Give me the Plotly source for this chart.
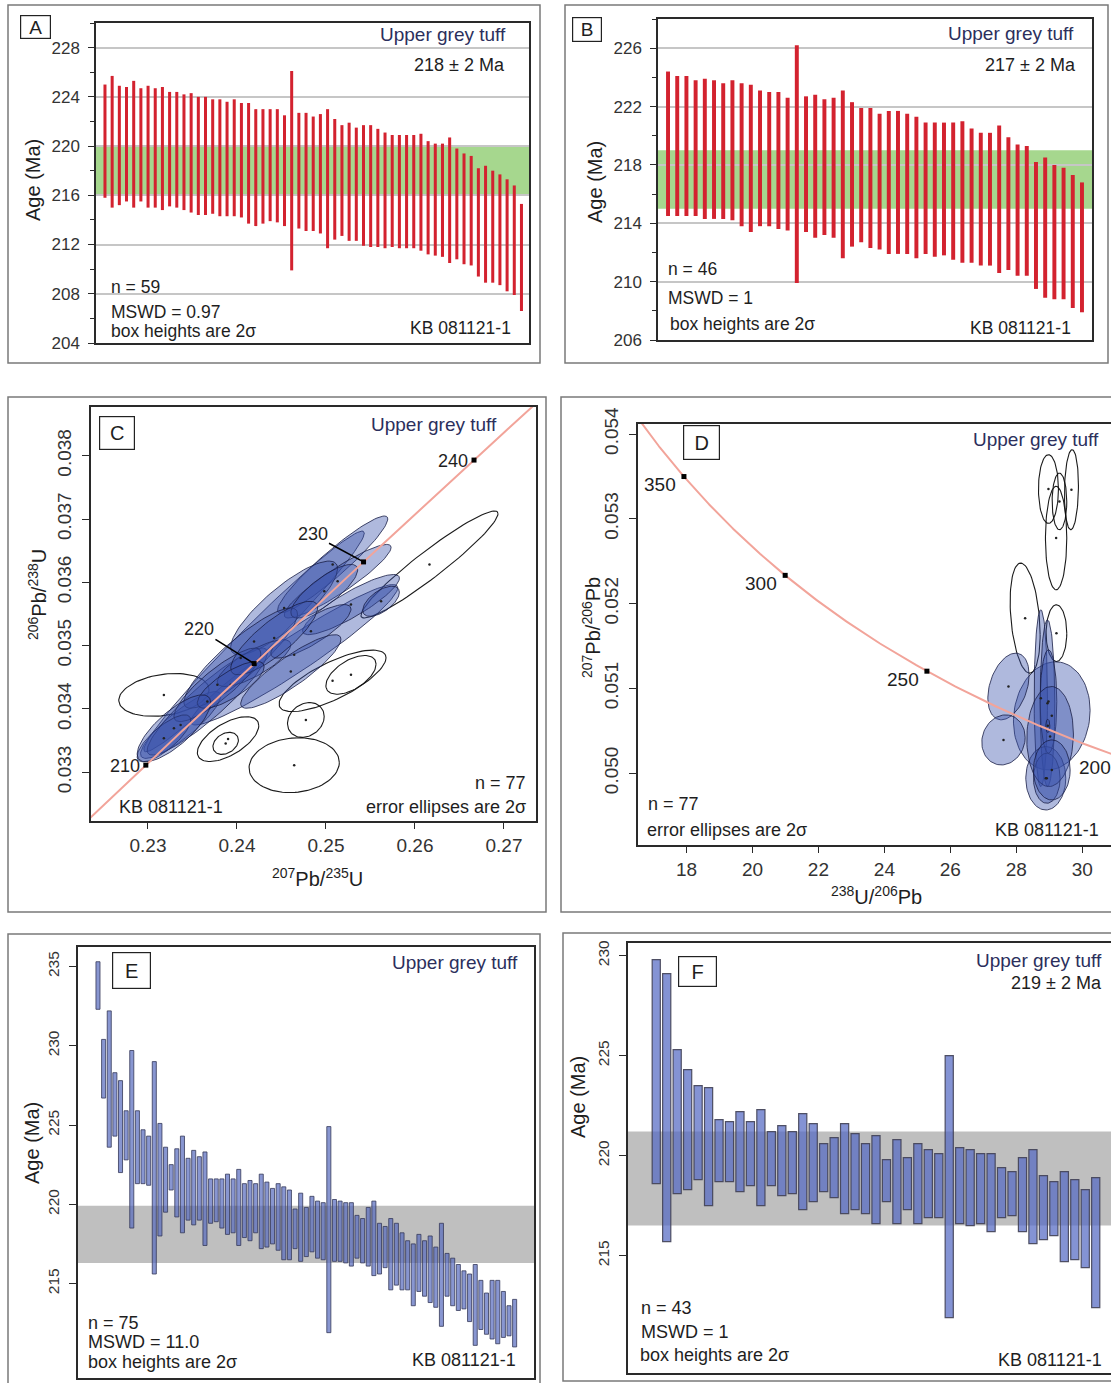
import numpy as np
import plotly.graph_objects as go

W, H = 1111, 1383
FONT = "Liberation Sans, Arial, sans-serif"
NAVY = "#2c2f5c"
TXT = "#1e1e1e"
AX = "#2a2a2a"

# ---------------- data ----------------
# Panel A: 2-sigma age boxes (Ma)
A_top = [225.0, 225.7, 224.9, 224.8, 225.3, 224.7, 224.9, 224.7, 224.8, 224.4,
         224.4, 224.2, 224.3, 224.0, 224.0, 223.8, 223.8, 223.6, 223.8, 223.5,
         223.5, 223.0, 223.0, 223.0, 223.0, 222.5, 226.1, 222.7, 222.7, 222.4,
         222.6, 223.0, 222.2, 221.7, 221.9, 221.5, 221.7, 221.7, 221.4, 221.1,
         220.9, 220.9, 220.9, 220.9, 221.0, 220.4, 220.2, 220.2, 220.7, 219.8,
         219.4, 219.2, 218.2, 218.4, 218.0, 217.7, 217.3, 216.8, 215.3]
A_bot = [215.8, 215.0, 215.2, 215.5, 215.0, 215.5, 215.0, 215.0, 214.8, 215.1,
         215.0, 214.8, 214.6, 214.4, 214.4, 214.5, 214.3, 214.3, 214.3, 214.2,
         213.7, 213.5, 213.7, 213.9, 213.8, 213.5, 209.9, 213.3, 213.1, 213.1,
         212.9, 211.7, 212.4, 212.7, 212.3, 212.3, 211.9, 211.8, 211.8, 211.7,
         211.8, 211.7, 211.7, 211.7, 211.5, 211.2, 211.1, 211.0, 210.5, 210.8,
         210.4, 210.3, 209.4, 208.9, 208.9, 208.7, 208.2, 207.9, 206.6]
A_band = [216.0, 220.0]

# Panel B
B_top = [224.4, 224.1, 224.1, 223.8, 223.9, 223.8, 223.6, 223.8, 223.6, 223.5,
         223.1, 223.0, 223.0, 222.6, 226.2, 222.7, 222.8, 222.5, 222.6, 223.1,
         222.3, 221.9, 221.9, 221.5, 221.7, 221.7, 221.5, 221.3, 220.9, 220.9,
         220.9, 220.9, 221.0, 220.5, 220.2, 220.2, 220.7, 219.9, 219.4, 219.3,
         218.2, 218.5, 218.0, 217.8, 217.3, 216.8]
B_bot = [214.5, 214.5, 214.5, 214.5, 214.3, 214.3, 214.3, 214.2, 213.8, 213.4,
         213.8, 213.8, 213.6, 213.5, 209.9, 213.4, 213.0, 213.2, 213.0, 211.6,
         212.4, 212.7, 212.3, 212.2, 211.9, 211.9, 211.9, 211.6, 211.9, 211.7,
         211.8, 211.5, 211.3, 211.3, 211.1, 211.1, 210.6, 210.8, 210.4, 210.4,
         209.5, 208.9, 208.8, 208.8, 208.2, 207.9]
B_band = [215.0, 219.0]

# Panel E
E_top = [235.3, 230.4, 232.2, 228.3, 227.8, 225.9, 229.7, 225.9, 224.7, 224.3,
         229.0, 225.1, 223.6, 222.5, 223.5, 224.3, 222.9, 223.4, 223.0, 223.3,
         221.6, 221.6, 221.6, 221.9, 221.6, 222.2, 221.3, 221.5, 221.3, 221.9,
         221.4, 221.0, 221.3, 221.1, 220.9, 219.7, 220.7, 219.8, 220.5, 220.2,
         220.1, 224.9, 220.3, 220.2, 220.1, 220.1, 219.3, 219.1, 219.8, 220.2,
         218.8, 218.6, 219.1, 218.8, 218.2, 217.7, 217.5, 218.1, 217.7, 218.0,
         217.3, 218.8, 216.9, 216.6, 216.2, 215.8, 215.6, 216.2, 215.2, 214.4,
         215.2, 215.2, 214.5, 213.6, 214.0]
E_bot = [232.3, 226.7, 223.6, 224.3, 222.0, 222.8, 218.5, 221.3, 221.3, 221.2,
         215.6, 218.0, 219.5, 220.9, 219.2, 218.2, 219.0, 218.7, 219.0, 217.4,
         218.8, 218.9, 218.5, 218.1, 218.2, 217.4, 217.9, 217.7, 218.2, 217.2,
         217.3, 217.5, 217.1, 216.5, 216.5, 217.2, 216.4, 216.7, 217.0, 216.6,
         216.5, 211.9, 216.4, 216.4, 216.3, 216.1, 216.6, 216.3, 216.1, 215.5,
         215.6, 216.0, 214.6, 214.9, 214.6, 214.6, 213.6, 214.5, 214.2, 213.8,
         213.5, 212.3, 214.2, 213.6, 213.3, 213.4, 212.6, 211.1, 212.1, 211.8,
         211.5, 211.2, 211.6, 211.7, 211.0]
E_band = [216.3, 219.9]

# Panel F
F_top = [229.8, 229.1, 225.3, 224.3, 223.5, 223.4, 221.8, 221.7, 222.2, 221.7,
         222.3, 221.2, 221.5, 221.2, 222.1, 221.6, 220.6, 220.9, 221.6, 221.1,
         220.6, 221.0, 219.8, 220.8, 219.9, 220.6, 220.3, 220.1, 225.0, 220.4,
         220.3, 220.1, 220.1, 219.4, 219.2, 219.9, 220.3, 219.0, 218.7, 219.2,
         218.8, 218.3, 218.9]
F_bot = [218.6, 215.7, 218.1, 218.3, 218.8, 217.5, 218.7, 218.7, 218.2, 218.5,
         217.5, 218.5, 218.0, 218.1, 217.3, 217.7, 218.2, 217.9, 217.1, 217.3,
         217.1, 216.6, 217.7, 216.6, 217.3, 216.6, 216.9, 216.9, 211.9, 216.6,
         216.5, 216.6, 216.2, 216.9, 217.0, 216.2, 215.6, 215.8, 216.0, 214.7,
         214.8, 214.4, 212.4]
F_band = [216.5, 221.2]

# Panel C: Wetherill error ellipses (207Pb/235U, 206Pb/238U, 2s half-widths, rho)
C_open_x = [0.26163, 0.23179, 0.25074, 0.25281, 0.24774, 0.24643, 0.23900, 0.23873]
C_open_y = [0.036282, 0.034222, 0.034444, 0.034539, 0.033826, 0.033112, 0.033524, 0.033456]
C_open_sx = [0.00770, 0.00507, 0.00601, 0.00282, 0.00206, 0.00507, 0.00345, 0.00143]
C_open_sy = [0.000845, 0.000338, 0.000486, 0.000306, 0.000275, 0.000433, 0.000354, 0.000174]
C_open_rho = [0.95, 0.25, 0.75, 0.55, 0.2, 0.1, 0.6, 0.3]

C_fill_x = [0.24192, 0.24643, 0.23367, 0.23667, 0.25075, 0.25131, 0.25281, 0.24530, 0.24042,
            0.24192, 0.24831, 0.23780, 0.24981, 0.23179, 0.24418, 0.24605, 0.23930, 0.25619,
            0.23292]
C_fill_y = [0.035067, 0.034856, 0.033747, 0.034117, 0.036282, 0.036018, 0.035649, 0.035596,
            0.034803, 0.034724, 0.035226, 0.034381, 0.035860, 0.033536, 0.035120, 0.034592,
            0.034381, 0.035701, 0.033694]
C_fill_sx = [0.012388, 0.011637, 0.004505, 0.006757, 0.006194, 0.006006, 0.005443, 0.006006,
             0.006381, 0.004129, 0.004505, 0.004880, 0.003754, 0.003003, 0.004880, 0.005631,
             0.003754, 0.002060, 0.004129]
C_fill_sy = [0.001743, 0.001109, 0.000528, 0.000845, 0.000766, 0.000581, 0.000475, 0.000740,
             0.000792, 0.000370, 0.000423, 0.000581, 0.000423, 0.000370, 0.000581, 0.000581,
             0.000370, 0.000238, 0.000528]
C_fill_rho = [0.981, 0.954, 0.867, 0.913, 0.94, 0.918, 0.877, 0.84, 0.88,
              0.79, 0.83, 0.86, 0.8, 0.78, 0.825, 0.877, 0.77, 0.6, 0.77]

# Panel D: Tera-Wasserburg error ellipses (238U/206Pb, 207Pb/206Pb, 2s half-widths, rho)
D_open_x = [28.974, 29.307, 29.671, 29.206, 28.267, 29.216]
D_open_y = [0.053351, 0.053205, 0.053343, 0.052773, 0.051829, 0.051652]
D_open_sx = [0.303, 0.222, 0.212, 0.323, 0.455, 0.313]
D_open_sy = [0.000405, 0.000334, 0.000472, 0.000610, 0.000649, 0.000334]
D_open_rho = [0.0, 0.0, 0.1, 0.0, -0.3, 0.0]

D_fill_x = [29.075, 27.762, 27.610, 28.742, 28.944, 28.893, 28.923, 28.974, 29.024, 29.075, 28.954]
D_fill_y = [0.050677, 0.051023, 0.050393, 0.050885, 0.050826, 0.049941, 0.049941, 0.050846,
            0.050433, 0.050039, 0.050559]
D_fill_sx = [1.162, 0.626, 0.657, 0.202, 0.222, 0.606, 0.404, 0.253, 0.707, 0.556, 0.061]
D_fill_sy = [0.000637, 0.000393, 0.000295, 0.001042, 0.000983, 0.000374, 0.000295, 0.000610,
             0.000590, 0.000354, 0.0000787]
D_fill_rho = [0.1, 0.35, 0.1, 0.0, 0.0, 0.0, 0.0, 0.0, 0.05, 0.0, 0.0]

# concordia
LAM238 = 1.55125e-4   # 1/Ma
LAM235 = 9.8485e-4    # 1/Ma
U85 = 137.88
C_ages = [210, 220, 230, 240]
D_ages = [200, 250, 300, 350]

# ---------------- helpers ----------------
def pxx(x):
    return x / W


def pyy(y):
    return 1 - y / H


def ellipse(cx, cy, sx, sy, rho, n=90):
    t = np.linspace(0, 2 * np.pi, n)
    x = cx + sx * np.cos(t)
    y = cy + sy * (rho * np.cos(t) + np.sqrt(1 - rho ** 2) * np.sin(t))
    return x, y


def wetherill(t):
    t = np.asarray(t, dtype=float)
    return np.exp(LAM235 * t) - 1, np.exp(LAM238 * t) - 1


def tera(t):
    t = np.asarray(t, dtype=float)
    r68 = np.exp(LAM238 * t) - 1
    r75 = np.exp(LAM235 * t) - 1
    return 1 / r68, r75 / r68 / U85


fig = go.Figure()


def add_bars(top, bot, xa, ya, width, color, lc, lw):
    top = np.array(top)
    bot = np.array(bot)
    fig.add_trace(go.Bar(x=np.arange(1, len(top) + 1), y=top - bot, base=bot, width=width,
                         marker=dict(color=color, line=dict(color=lc, width=lw)),
                         xaxis=xa, yaxis=ya, hoverinfo="skip"))


add_bars(A_top, A_bot, "x", "y", 0.42, "#d3222f", "#d3222f", 0)
add_bars(B_top, B_bot, "x2", "y2", 0.43, "#d3222f", "#d3222f", 0)
add_bars(E_top, E_bot, "x5", "y5", 0.72, "rgba(85,105,190,0.70)", "rgba(55,58,90,0.9)", 0.9)
add_bars(F_top, F_bot, "x6", "y6", 0.78, "rgba(85,105,195,0.72)", "rgba(65,65,85,0.9)", 1.2)

FILL = "rgba(55,80,170,0.40)"
FLINE = "rgba(25,30,70,0.8)"


def add_ellipses(xs, ys, sxs, sys_, rhos, xa, ya, filled):
    for cx, cy, sx, sy, r in zip(xs, ys, sxs, sys_, rhos):
        ex, ey = ellipse(cx, cy, sx, sy, r)
        if filled:
            fig.add_trace(go.Scatter(x=ex, y=ey, mode="lines", fill="toself", fillcolor=FILL,
                                     line=dict(color=FLINE, width=1), xaxis=xa, yaxis=ya,
                                     hoverinfo="skip"))
        else:
            fig.add_trace(go.Scatter(x=ex, y=ey, mode="lines",
                                     line=dict(color="rgba(15,15,15,0.95)", width=1.1),
                                     xaxis=xa, yaxis=ya, hoverinfo="skip"))
    fig.add_trace(go.Scatter(x=xs, y=ys, mode="markers",
                             marker=dict(symbol="circle", size=2.5, color="#222"),
                             xaxis=xa, yaxis=ya, hoverinfo="skip"))


# Panel C
add_ellipses(C_open_x, C_open_y, C_open_sx, C_open_sy, C_open_rho, "x3", "y3", False)
add_ellipses(C_fill_x, C_fill_y, C_fill_sx, C_fill_sy, C_fill_rho, "x3", "y3", True)
tC = np.linspace(195, 252, 300)
cx_, cy_ = wetherill(tC)
fig.add_trace(go.Scatter(x=cx_, y=cy_, mode="lines", line=dict(color="#f2a49a", width=2),
                         xaxis="x3", yaxis="y3", hoverinfo="skip"))
mcx, mcy = wetherill(C_ages)
fig.add_trace(go.Scatter(x=mcx, y=mcy, mode="markers",
                         marker=dict(symbol="square", size=5, color="black"),
                         xaxis="x3", yaxis="y3", hoverinfo="skip"))

# Panel D
add_ellipses(D_open_x, D_open_y, D_open_sx, D_open_sy, D_open_rho, "x4", "y4", False)
add_ellipses(D_fill_x, D_fill_y, D_fill_sx, D_fill_sy, D_fill_rho, "x4", "y4", True)
tD = np.linspace(190, 400, 400)
dx_, dy_ = tera(tD)
fig.add_trace(go.Scatter(x=dx_, y=dy_, mode="lines", line=dict(color="#f2a49a", width=2),
                         xaxis="x4", yaxis="y4", hoverinfo="skip"))
mdx, mdy = tera(D_ages)
fig.add_trace(go.Scatter(x=mdx, y=mdy, mode="markers",
                         marker=dict(symbol="square", size=5, color="black"),
                         xaxis="x4", yaxis="y4", hoverinfo="skip"))

# ---------------- axes ----------------
def frame():
    return dict(showline=True, mirror=True, linecolor=AX, linewidth=1.5, zeroline=False,
                showgrid=False, automargin=False)


def hidden_x(dom, rng, anchor):
    d = frame()
    d.update(domain=dom, range=rng, anchor=anchor, showticklabels=False, ticks="")
    return d


def yaxis_age(dom, rng, tick0, anchor):
    d = frame()
    d.update(domain=dom, range=rng, anchor=anchor, tick0=tick0, dtick=4, ticks="outside",
             ticklen=6, tickwidth=1.2, tickcolor=AX,
             tickfont=dict(family=FONT, size=17, color="#333"),
             showgrid=True, gridcolor="#c6c6c6", gridwidth=1.5,
             minor=dict(dtick=2, tick0=tick0, ticks="outside", ticklen=4, tickcolor=AX,
                        showgrid=False),
             ticklabelstandoff=5)
    return d


def num_axis(dom, rng, tickvals, anchor, size, angle=0, fmt=None, standoff=4, ticklen=7):
    d = frame()
    d.update(domain=dom, range=rng, anchor=anchor, tickmode="array", tickvals=tickvals,
             ticks="outside", ticklen=ticklen, tickwidth=1.2, tickcolor=AX,
             tickfont=dict(family=FONT, size=size, color="#333"), tickangle=angle,
             ticklabelstandoff=standoff)
    if fmt:
        d["tickformat"] = fmt
    return d


C_xt = [0.23, 0.24, 0.25, 0.26, 0.27]
C_yt = [0.033, 0.034, 0.035, 0.036, 0.037, 0.038]
D_xt = [18, 20, 22, 24, 26, 28, 30]
D_yt = [0.050, 0.051, 0.052, 0.053, 0.054]
E_yt = [215, 220, 225, 230, 235]
F_yt = [215, 220, 225, 230]

layout = dict(
    width=W, height=H, autosize=False, margin=dict(l=0, r=0, t=0, b=0, pad=0),
    paper_bgcolor="white", plot_bgcolor="white", showlegend=False, barmode="overlay",
    xaxis=hidden_x([pxx(96), pxx(529)], [-0.25, 60.05], "y"),
    yaxis=yaxis_age([pyy(343), pyy(23)], [204, 230], 204, "x"),
    xaxis2=hidden_x([pxx(658), pxx(1092)], [-0.09, 47.09], "y2"),
    yaxis2=yaxis_age([pyy(340), pyy(19)], [206, 228], 206, "x2"),
    xaxis3=num_axis([pxx(91), pxx(536)], [0.2236, 0.2736], C_xt, "y3", 19, 0, ".2f", 0, 6),
    yaxis3=num_axis([pyy(821), pyy(407)], [0.03223, 0.03877], C_yt, "x3", 19, -90, ".3f", 4),
    xaxis4=num_axis([pxx(638), 1.0], [16.53, 30.87], D_xt, "y4", 19, 0, None, 0, 6),
    yaxis4=num_axis([pyy(845), pyy(424)], [0.049154, 0.054118], D_yt, "x4", 19, -90, ".3f", 4),
    xaxis5=hidden_x([pxx(78), pxx(534)], [-2.55, 78.44], "y5"),
    yaxis5=num_axis([pyy(1378), pyy(947)], [209.04, 236.23], E_yt, "x5", 15.5, -90, None, 4),
    xaxis6=hidden_x([pxx(628), 1.0], [-1.7, 44.46], "y6"),
    yaxis6=num_axis([pyy(1373), pyy(943)], [209.13, 230.63], F_yt, "x6", 15.5, -90, None, 4),
)

# ---------------- shapes ----------------
shapes = []
for (x0, y0, x1, y1) in [(8, 5, 540, 363), (565, 5, 1108, 363), (8, 397, 546, 912),
                         (561, 397, 1125, 912), (8, 934, 540, 1400), (563, 933, 1125, 1381)]:
    shapes.append(dict(type="rect", xref="paper", yref="paper", x0=pxx(x0), x1=pxx(x1),
                       y0=pyy(y1), y1=pyy(y0), line=dict(color="#7a7a7a", width=1.5),
                       layer="below"))

for xa, ya, band, col in [("x", "y", A_band, "#a6d78e"), ("x2", "y2", B_band, "#a6d78e"),
                          ("x5", "y5", E_band, "#bfbfbf"), ("x6", "y6", F_band, "#bfbfbf")]:
    shapes.append(dict(type="rect", xref=xa + " domain", yref=ya, x0=0, x1=1, y0=band[0],
                       y1=band[1], fillcolor=col, line=dict(width=0), layer="below"))
layout["shapes"] = shapes

# ---------------- annotations ----------------
ann = []


def txt(x, y, s, xanchor="left", size=17.5, color=TXT, angle=0):
    ann.append(dict(x=pxx(x), y=pyy(y), xref="paper", yref="paper", text=s, showarrow=False,
                    xanchor=xanchor, yanchor="middle", textangle=angle,
                    font=dict(family=FONT, size=size, color=color)))


def letter(cx, cy, w, h, s, size=19):
    ann.append(dict(x=pxx(cx), y=pyy(cy), xref="paper", yref="paper", text=s, showarrow=False,
                    xanchor="center", yanchor="middle", width=w, height=h, borderpad=0,
                    bordercolor="#222", borderwidth=1.2, bgcolor="white",
                    font=dict(family=FONT, size=size, color=TXT)))


# Panel A
letter(35.7, 27, 29, 22, "A")
txt(508, 35, "Upper grey tuff", "right", 19, NAVY)
txt(507, 65, "218 ± 2 Ma", "right", 18)
txt(109, 287, "n = 59")
txt(109, 312, "MSWD = 0.97")
txt(109, 331, "box heights are 2σ")
txt(513, 328, "KB 081121-1", "right")
txt(33, 180, "Age (Ma)", "center", 20, TXT, -90)

# Panel B
letter(586.5, 29, 28, 23, "B")
txt(1076, 33, "Upper grey tuff", "right", 19, NAVY)
txt(1078, 65, "217 ± 2 Ma", "right", 18)
txt(666, 269, "n = 46")
txt(666, 298, "MSWD = 1")
txt(668, 324, "box heights are 2σ")
txt(1073, 328, "KB 081121-1", "right")
txt(595, 182, "Age (Ma)", "center", 20, TXT, -90)

# Panel C
letter(117, 433, 34, 32, "C", 20)
txt(499, 424, "Upper grey tuff", "right", 19, NAVY)
txt(528, 783, "n = 77", "right", 18)
txt(528, 807, "error ellipses are 2σ", "right", 18)
txt(117, 807, "KB 081121-1", "left", 18)
txt(37, 595, "<sup>206</sup>Pb/<sup>238</sup>U", "center", 20, TXT, -90)
txt(317, 877, "<sup>207</sup>Pb/<sup>235</sup>U", "center", 20)
for age, mx, my in zip(C_ages, mcx, mcy):
    if age in (210, 240):
        ann.append(dict(x=mx, y=my, xref="x3", yref="y3", text=str(age), showarrow=False,
                        xanchor="right", yanchor="middle", xshift=-4, yshift=-1,
                        font=dict(family=FONT, size=18, color=TXT)))
lab_pos = {220: (0.23573, 0.035263), 230: (0.24849, 0.036757)}
for age, mx, my in zip(C_ages, mcx, mcy):
    if age in lab_pos:
        lx, ly = lab_pos[age]
        ann.append(dict(x=mx, y=my, xref="x3", yref="y3", ax=lx, ay=ly, axref="x3", ayref="y3",
                        text=str(age), showarrow=True, arrowhead=0, arrowwidth=1.6,
                        arrowcolor="black", standoff=0,
                        font=dict(family=FONT, size=18, color=TXT)))

# Panel D
letter(701, 443, 35, 33, "D", 20)
txt(1101, 439, "Upper grey tuff", "right", 19, NAVY)
txt(646, 804, "n = 77", "left", 18)
txt(645, 830, "error ellipses are 2σ", "left", 18)
txt(1101, 830, "KB 081121-1", "right", 18)
txt(591, 628, "<sup>207</sup>Pb/<sup>206</sup>Pb", "center", 20, TXT, -90)
txt(876, 895, "<sup>238</sup>U/<sup>206</sup>Pb", "center", 20)
for age, mx, my in zip(D_ages, mdx, mdy):
    if age == 200:
        continue
    ann.append(dict(x=mx, y=my, xref="x4", yref="y4", text=str(age), showarrow=False,
                    xanchor="right", yanchor="middle", xshift=-6, yshift=-8,
                    font=dict(family=FONT, size=19, color=TXT)))
txt(1077, 767, "200", "left", 19)

# Panel E
letter(131.5, 970.5, 37, 35, "E", 20)
txt(520, 962, "Upper grey tuff", "right", 19, NAVY)
txt(86, 1323, "n = 75", "left", 18)
txt(86, 1342, "MSWD = 11.0", "left", 18)
txt(86, 1362, "box heights are 2σ", "left", 18)
txt(518, 1360, "KB 081121-1", "right", 18)
txt(32, 1143, "Age (Ma)", "center", 20, TXT, -90)

# Panel F
letter(697.5, 971.7, 37, 29, "F", 20)
txt(1104, 960, "Upper grey tuff", "right", 19, NAVY)
txt(1104, 983, "219 ± 2 Ma", "right", 18)
txt(639, 1308, "n = 43", "left", 18)
txt(639, 1332, "MSWD = 1", "left", 18)
txt(638, 1355, "box heights are 2σ", "left", 18)
txt(1104, 1360, "KB 081121-1", "right", 18)
txt(578, 1097, "Age (Ma)", "center", 20, TXT, -90)

layout["annotations"] = ann
fig.update_layout(**layout)
fig.write_html("out.html", config={"displayModeBar": False},
               post_script="document.body.style.margin='0px';"
                           "document.body.style.overflow='hidden';")
